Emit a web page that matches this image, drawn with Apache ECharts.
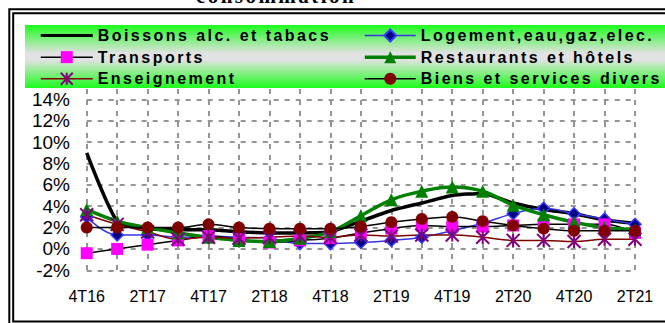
<!DOCTYPE html>
<html>
<head>
<meta charset="utf-8">
<script src="https://cdn.jsdelivr.net/npm/echarts@6/dist/echarts.min.js"></script>
<style>
  html, body { margin: 0; padding: 0; background: #ffffff; }
  #chart { width: 665px; height: 323px; }
  /* spaced-out lettering for the bold legend and heading text */
  #chart text[style*="bold"], #chart text[font-weight="bold"] { letter-spacing: 2.45px; }
</style>
</head>
<body>
<div id="chart"></div>
<script>
// Quarterly categories
const quarters = ['4T16', '1T17', '2T17', '3T17', '4T17', '1T18', '2T18', '3T18', '4T18',
  '1T19', '2T19', '3T19', '4T19', '1T20', '2T20', '3T20', '4T20', '1T21', '2T21'];

// Year-on-year change, in %
const boissons     = [9.0, 2.6, 1.9, 1.8, 1.8, 1.6, 1.5, 1.5, 1.6, 2.6, 3.6, 4.3, 5.0, 5.2, 4.3, 3.7, 3.3, 2.7, 2.4];
const logement     = [3.0, 1.3, 1.3, 1.1, 1.2, 1.1, 1.0, 0.5, 0.5, 0.6, 0.8, 1.1, 1.7, 2.4, 3.3, 3.8, 3.3, 2.8, 2.3];
const transports   = [-0.4, 0.0, 0.4, 0.8, 1.2, 0.9, 0.6, 0.8, 1.0, 1.5, 1.9, 2.2, 2.1, 2.1, 2.2, 2.3, 2.3, 2.3, 1.5];
const restaurants  = [3.7, 2.6, 2.0, 1.5, 1.1, 0.8, 0.7, 1.0, 1.6, 3.1, 4.6, 5.4, 5.8, 5.4, 4.1, 3.2, 2.5, 2.0, 1.8];
const enseignement = [3.2, 2.3, 1.6, 0.9, 1.1, 1.0, 1.1, 1.2, 1.1, 1.3, 1.2, 1.3, 1.3, 1.1, 0.8, 0.8, 0.7, 0.9, 0.9];
const biens        = [2.0, 2.0, 2.0, 2.0, 2.3, 2.0, 1.9, 1.9, 1.9, 2.1, 2.5, 2.8, 3.0, 2.6, 2.2, 1.9, 1.7, 1.7, 1.7];

// Series names
const names = {
  boissons: 'Boissons alc. et tabacs',
  logement: 'Logement,eau,gaz,elec.',
  transports: 'Transports',
  restaurants: 'Restaurants et hôtels',
  enseignement: 'Enseignement',
  biens: 'Biens et services divers'
};

const headingText = 'consommation';

const SANS = '"Liberation Sans", Arial, sans-serif';
const gridDash = { color: '#959595', width: 2, type: [5, 6] };
const asterisk = 'path://M0,0L10,10M10,0L0,10M5,0L5,10';

const chart = echarts.init(document.getElementById('chart'), null, { renderer: 'svg' });

const legendCommon = {
  orient: 'vertical',
  padding: 0,
  itemHeight: 15,
  itemGap: 5.65,
  top: 27.5,
  selectedMode: false,
  lineStyle: { width: 'inherit' },
  textStyle: { fontFamily: SANS, fontWeight: 'bold', fontSize: 16, lineHeight: 16, color: '#000' }
};

chart.setOption({
  animation: false,
  backgroundColor: '#ffffff',
  grid: { left: 86.7, right: 30, top: 78, bottom: 52.7 },
  legend: [
    Object.assign({}, legendCommon, {
      left: 40, itemWidth: 52,
      data: [{ name: names.boissons, icon: 'path://M0,0H52V3H0Z' }, names.transports, names.enseignement]
    }),
    Object.assign({}, legendCommon, {
      left: 363, itemWidth: 51,
      data: [names.logement, names.restaurants, names.biens]
    })
  ],
  xAxis: {
    type: 'category',
    data: quarters,
    boundaryGap: false,
    axisLine: { show: false },
    axisTick: { show: false },
    axisLabel: { interval: 1, margin: 18.4, fontFamily: SANS, fontSize: 16, color: '#000' },
    splitLine: { show: true, interval: 0, lineStyle: gridDash }
  },
  yAxis: {
    type: 'value',
    min: -2, max: 16, interval: 2,
    axisLine: { show: false },
    axisTick: { show: false },
    axisLabel: { formatter: '{value}%', margin: 16.7, fontFamily: SANS, fontSize: 19, color: '#000' },
    splitLine: { show: true, lineStyle: gridDash }
  },
  series: [
    {
      name: names.boissons, type: 'line', data: boissons, smooth: 0.2,
      symbol: 'none', color: '#000000',
      lineStyle: { color: '#000000', width: 3.5 }
    },
    {
      name: names.logement, type: 'line', data: logement, smooth: 0.4,
      symbol: 'diamond', symbolSize: 12,
      lineStyle: { color: '#3636e0', width: 1.5 },
      itemStyle: { color: '#000080', borderColor: '#3a3aff', borderWidth: 1.5 }
    },
    {
      name: names.transports, type: 'line', data: transports, smooth: 0.4,
      symbol: 'rect', symbolSize: 12,
      lineStyle: { color: '#000000', width: 1.5 },
      itemStyle: { color: '#ff00ff', borderWidth: 0 }
    },
    {
      name: names.restaurants, type: 'line', data: restaurants, smooth: 0.4,
      symbol: 'triangle', symbolSize: 13,
      lineStyle: { color: '#008000', width: 3.5 },
      itemStyle: { color: '#008000', borderWidth: 0 }
    },
    {
      name: names.enseignement, type: 'line', data: enseignement, smooth: 0.4,
      symbol: asterisk, symbolSize: 13,
      lineStyle: { color: '#800000', width: 1.5 },
      itemStyle: { color: '#800080', borderColor: '#800080', borderWidth: 2 }
    },
    {
      name: names.biens, type: 'line', data: biens, smooth: 0.4,
      symbol: 'circle', symbolSize: 12,
      lineStyle: { color: '#000000', width: 1.5 },
      itemStyle: { color: '#800000', borderWidth: 0 }
    }
  ],
  graphic: [
    {
      // legend band
      type: 'rect', z: 3, silent: true,
      shape: { x: 25, y: 25, width: 660, height: 63 },
      style: {
        fill: new echarts.graphic.LinearGradient(0, 0, 0, 1, [
          { offset: 0, color: '#1cfc1c' },
          { offset: 0.45, color: '#e2e2e2' },
          { offset: 0.55, color: '#e2e2e2' },
          { offset: 1, color: '#1cfc1c' }
        ])
      }
    },
    {
      // outer frame
      type: 'rect', z: 10, silent: true,
      shape: { x: 9.3, y: 9.3, width: 680, height: 320 },
      style: { fill: 'none', stroke: '#000', lineWidth: 2 }
    },
    {
      // inner frame
      type: 'rect', z: 10, silent: true,
      shape: { x: 13.2, y: 13.2, width: 680, height: 308.3 },
      style: { fill: 'none', stroke: '#000', lineWidth: 2 }
    },
    {
      type: 'text', z: 10, silent: true,
      style: {
        text: headingText, x: 276, y: -3.8,
        align: 'center', verticalAlign: 'middle',
        font: 'bold 21px "Liberation Serif", "Times New Roman", serif',
        fill: '#000'
      }
    }
  ]
});
</script>
</body>
</html>
